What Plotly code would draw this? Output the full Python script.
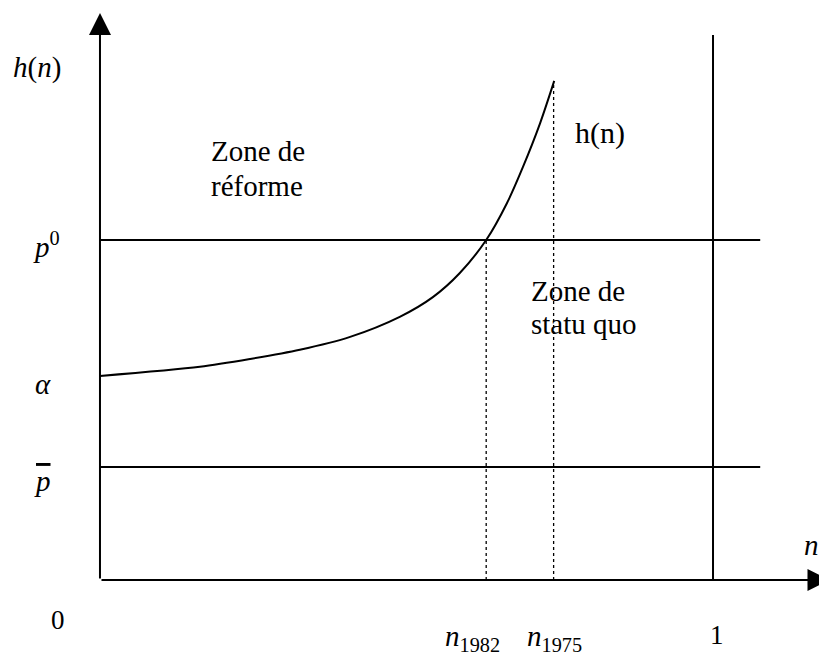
import plotly.graph_objects as go

# ---- data (schematic units: n in [0,1], h scaled so that p0 = 1) ----
n_1982 = 0.63
n_1975 = 0.74
n_one = 1.0
p0 = 1.0
alpha = 0.60
pbar = 0.332

curve_n = [0.0, 0.163, 0.245, 0.326, 0.408, 0.489, 0.543, 0.587, 0.630, 0.664, 0.690, 0.718, 0.741]
curve_h = [0.600, 0.627, 0.650, 0.677, 0.715, 0.774, 0.832, 0.903, 1.000, 1.109, 1.215, 1.344, 1.468]

hline_end = 1.077
vline_top = 1.603
yaxis_top = 1.668
xaxis_end = 1.19

FONT = "Liberation Serif"
BLACK = "#000000"

fig = go.Figure()

# horizontal lines p0 and pbar
for yv in [p0, pbar]:
    fig.add_trace(go.Scatter(x=[0, hline_end], y=[yv, yv], mode="lines",
                             line=dict(color=BLACK, width=2), hoverinfo="skip"))
# vertical line at n = 1
fig.add_trace(go.Scatter(x=[n_one, n_one], y=[0, vline_top], mode="lines",
                         line=dict(color=BLACK, width=2), hoverinfo="skip"))
# dotted verticals
fig.add_trace(go.Scatter(x=[n_1982, n_1982], y=[0, p0], mode="lines",
                         line=dict(color=BLACK, width=1.3, dash="dot"), hoverinfo="skip"))
fig.add_trace(go.Scatter(x=[n_1975, n_1975], y=[0, curve_h[-1]], mode="lines",
                         line=dict(color=BLACK, width=1.3, dash="dot"), hoverinfo="skip"))
# curve h(n)
fig.add_trace(go.Scatter(x=curve_n, y=curve_h, mode="lines",
                         line=dict(color=BLACK, width=2, shape="spline", smoothing=0.8),
                         hoverinfo="skip"))

ann = []
# axes with arrowheads
for tip_x, tip_y in [(0, yaxis_top), (xaxis_end, 0)]:
    ann.append(dict(x=tip_x, y=tip_y, ax=0, ay=0, xref="x", yref="y", axref="x", ayref="y",
                    text="", showarrow=True, arrowhead=2, arrowsize=2.2, arrowwidth=2,
                    arrowcolor=BLACK, standoff=0, startstandoff=0))


def label(text, x, y, size=29, xanchor="center"):
    ann.append(dict(x=x, y=y, xref="x", yref="y", text=text, showarrow=False,
                    xanchor=xanchor, yanchor="middle",
                    font=dict(family=FONT, size=size, color=BLACK)))


label("<i>h</i>(<i>n</i>)", -0.103, 1.506, size=29)
label("<i>p</i><sup>0</sup>", -0.088, 0.985, size=29)
label("<i>α</i>", -0.093, 0.576, size=29)
label("<span style='text-decoration:overline'><i>p</i></span>", -0.093, 0.29, size=29)
label("0", -0.069, -0.118, size=27)
label("<i>n</i>", 1.160, 0.103, size=29)
label("<i>n</i><sub>1982</sub>", 0.607, -0.172, size=29)
label("<i>n</i><sub>1975</sub>", 0.742, -0.172, size=29)
label("1", 1.0065, -0.162, size=27)

label("Zone de", 0.178, 1.262, xanchor="left")
label("réforme", 0.178, 1.159, xanchor="left")
label("h(n)", 0.772, 1.315, size=30, xanchor="left")
label("Zone de", 0.70, 0.850, xanchor="left")
label("statu quo", 0.70, 0.753, xanchor="left")

fig.update_layout(
    width=819, height=655,
    margin=dict(l=0, r=0, t=0, b=0),
    paper_bgcolor="white", plot_bgcolor="white",
    showlegend=False,
    xaxis=dict(range=[-0.1631, 1.1729], visible=False, fixedrange=True),
    yaxis=dict(range=[-0.2206, 1.7059], visible=False, fixedrange=True),
    annotations=ann,
)

fig.write_html("out.html", config={"displayModeBar": False},
               post_script="document.body.style.margin='0';document.body.style.overflow='hidden';")
